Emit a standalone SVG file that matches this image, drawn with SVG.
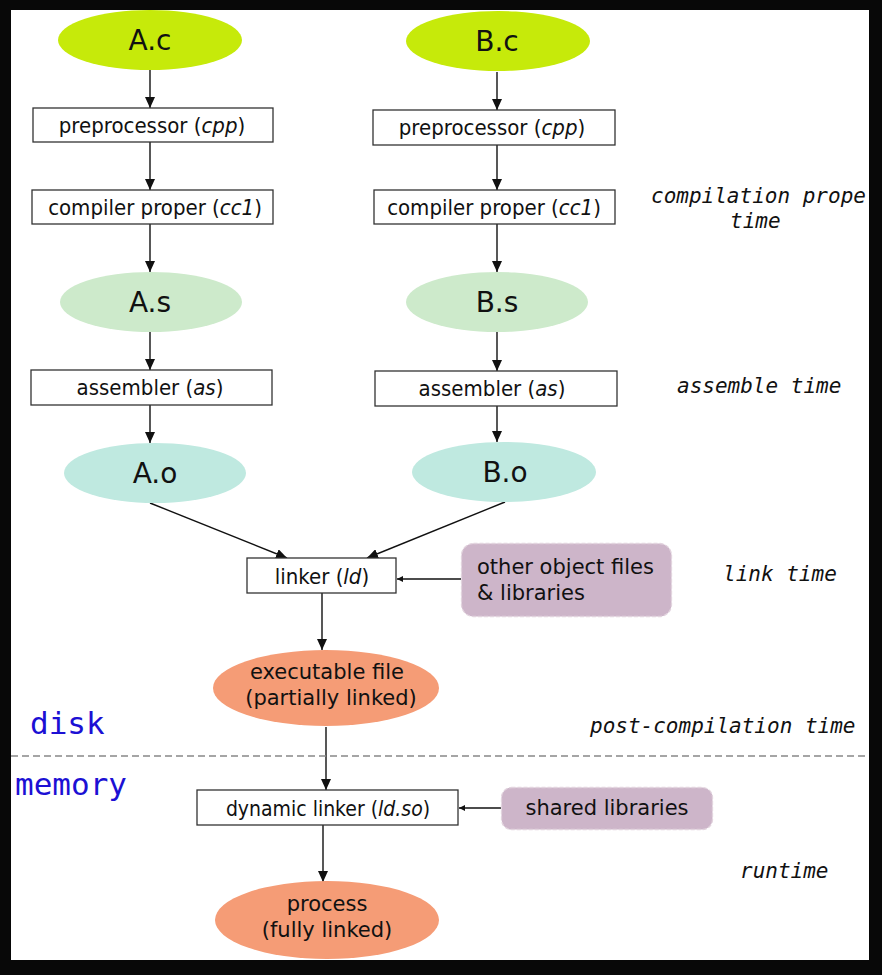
<svg xmlns="http://www.w3.org/2000/svg" width="882" height="975" viewBox="0 0 882 975">
<style>
.box{fill:#fff;stroke:#333;stroke-width:1.3}
.lbl{font-family:"DejaVu Sans Condensed","DejaVu Sans",sans-serif;font-stretch:condensed;font-size:22px;fill:#111;text-anchor:middle}
.big{font-family:"DejaVu Sans",sans-serif;font-size:28px;fill:#111;text-anchor:middle}
.mid{font-family:"DejaVu Sans",sans-serif;font-size:21px;fill:#111}
.it{font-style:italic}
.mono{font-family:"DejaVu Sans Mono",monospace;font-size:21px;font-style:italic;fill:#111}
.blue{font-family:"DejaVu Sans Mono",monospace;font-size:31px;fill:#1c10d4}
.src{fill:#c6ea0a}
.asm{fill:#cdeacb}
.obj{fill:#bfe9e0}
.exe{fill:#f59c76}
.lib{fill:#cdb5c9;stroke:#e2d4de;stroke-width:1.3;stroke-dasharray:4 2}
.c{stroke:#111;stroke-width:1.4;fill:none}
</style>
<defs>
<marker id="ah" markerUnits="userSpaceOnUse" markerWidth="12" markerHeight="10" refX="11" refY="5" orient="auto"><path d="M0,0 L11,5 L0,10 z" fill="#111"/></marker>
<marker id="as" markerUnits="userSpaceOnUse" markerWidth="7" markerHeight="6" refX="6" refY="3" orient="auto"><path d="M0,0 L6,3 L0,6 z" fill="#111"/></marker>
</defs>
<rect x="0" y="0" width="882" height="975" fill="#fff"/>
<g id="connectors">
<line class="c" x1="150" y1="70" x2="150" y2="108" marker-end="url(#ah)"/>
<line class="c" x1="150" y1="142" x2="150" y2="190" marker-end="url(#ah)"/>
<line class="c" x1="150" y1="224" x2="150" y2="272" marker-end="url(#ah)"/>
<line class="c" x1="150" y1="332" x2="150" y2="370" marker-end="url(#ah)"/>
<line class="c" x1="150" y1="405" x2="150" y2="443" marker-end="url(#ah)"/>
<line class="c" x1="497" y1="72" x2="497" y2="110" marker-end="url(#ah)"/>
<line class="c" x1="497" y1="145" x2="497" y2="190" marker-end="url(#ah)"/>
<line class="c" x1="497" y1="224" x2="497" y2="272" marker-end="url(#ah)"/>
<line class="c" x1="497" y1="332" x2="497" y2="371" marker-end="url(#ah)"/>
<line class="c" x1="497" y1="406" x2="497" y2="442" marker-end="url(#ah)"/>
<line class="c" x1="150" y1="503" x2="287" y2="558" marker-end="url(#ah)"/>
<line class="c" x1="505" y1="502" x2="367" y2="558" marker-end="url(#ah)"/>
<line class="c" x1="461" y1="579" x2="397" y2="579" stroke="#555" marker-end="url(#as)"/>
<line class="c" x1="322" y1="593" x2="322" y2="650" marker-end="url(#ah)"/>
<line class="c" x1="326" y1="727" x2="326" y2="790" marker-end="url(#ah)"/>
<line class="c" x1="501" y1="808" x2="459" y2="808" stroke="#555" marker-end="url(#as)"/>
<line class="c" x1="323" y1="825" x2="323" y2="882" marker-end="url(#ah)"/>
</g>
<line x1="11" y1="756" x2="869" y2="756" stroke="#888" stroke-width="1.3" stroke-dasharray="7 4"/>
<g id="Ac"><ellipse class="src" cx="150" cy="40" rx="92" ry="30"/><text class="big" x="150" y="50">A.c</text></g>
<g id="Bc"><ellipse class="src" cx="498" cy="41" rx="92" ry="30"/><text class="big" x="497" y="51">B.c</text></g>
<g id="cppA"><rect class="box" x="33" y="108" width="240" height="34"/><text class="lbl" x="152" y="133">preprocessor (<tspan class="it">cpp</tspan>)</text></g>
<g id="cppB"><rect class="box" x="373" y="110" width="242" height="35"/><text class="lbl" x="492" y="135">preprocessor (<tspan class="it">cpp</tspan>)</text></g>
<g id="cc1A"><rect class="box" x="32" y="190" width="241" height="34"/><text class="lbl" x="155" y="215">compiler proper (<tspan class="it">cc1</tspan>)</text></g>
<g id="cc1B"><rect class="box" x="374" y="190" width="241" height="34"/><text class="lbl" x="494" y="215">compiler proper (<tspan class="it">cc1</tspan>)</text></g>
<g id="As"><ellipse class="asm" cx="151" cy="302" rx="91" ry="30"/><text class="big" x="150" y="312">A.s</text></g>
<g id="Bs"><ellipse class="asm" cx="497" cy="302" rx="91" ry="30"/><text class="big" x="497" y="312">B.s</text></g>
<g id="asA"><rect class="box" x="31" y="370" width="241" height="35"/><text class="lbl" x="150" y="395">assembler (<tspan class="it">as</tspan>)</text></g>
<g id="asB"><rect class="box" x="375" y="371" width="242" height="35"/><text class="lbl" x="492" y="396">assembler (<tspan class="it">as</tspan>)</text></g>
<g id="Ao"><ellipse class="obj" cx="155" cy="473" rx="91" ry="30"/><text class="big" x="155" y="483">A.o</text></g>
<g id="Bo"><ellipse class="obj" cx="504" cy="472" rx="92" ry="30"/><text class="big" x="505" y="482">B.o</text></g>
<g id="linker"><rect class="box" x="247" y="558" width="149" height="35"/><text class="lbl" x="322" y="584">linker (<tspan class="it">ld</tspan>)</text></g>
<g id="other"><rect class="lib" x="461.5" y="543.5" width="210" height="73" rx="12"/><text class="mid" x="477" y="574">other object files</text><text class="mid" x="477" y="600">&amp; libraries</text></g>
<g id="exe"><ellipse class="exe" cx="326" cy="688" rx="113" ry="38"/><text class="mid" x="327" y="679" text-anchor="middle">executable file</text><text class="mid" x="331" y="705" text-anchor="middle">(partially linked)</text></g>
<g id="dyn"><rect class="box" x="197" y="790" width="261" height="35"/><text class="lbl" x="328" y="816" style="font-size:21px">dynamic linker (<tspan class="it">ld.so</tspan>)</text></g>
<g id="shared"><rect class="lib" x="501.5" y="787.5" width="211" height="42" rx="10"/><text class="mid" x="607" y="815" text-anchor="middle">shared libraries</text></g>
<g id="process"><ellipse class="exe" cx="327" cy="920" rx="112" ry="39"/><text class="mid" x="327" y="911" text-anchor="middle">process</text><text class="mid" x="327" y="937" text-anchor="middle">(fully linked)</text></g>
<text class="blue" x="30" y="734">disk</text>
<text class="blue" x="15" y="795">memory</text>
<text class="mono" x="651" y="203">compilation prope</text>
<text class="mono" x="730" y="228">time</text>
<text class="mono" x="677" y="393">assemble time</text>
<text class="mono" x="723" y="581">link time</text>
<text class="mono" x="590" y="733">post-compilation time</text>
<text class="mono" x="740" y="878">runtime</text>
<path d="M0,0 H882 V975 H0 Z M11,10 V960 H869 V10 Z" fill="#080808" fill-rule="evenodd"/>
</svg>
